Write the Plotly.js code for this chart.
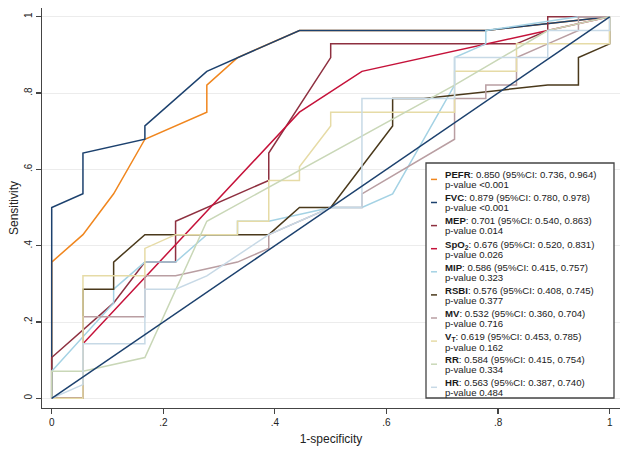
<!DOCTYPE html>
<html><head><meta charset="utf-8">
<script src="https://cdn.plot.ly/plotly-3.0.1.min.js"></script>
<style>html,body{margin:0;padding:0;background:#fff}#chart{width:632px;height:452px}</style>
</head><body><div id="chart"></div>
<script>
// ---- data ----
const markers = ['PEFR','FVC','MEP','SpO<sub>2</sub>','MIP','RSBI','MV','V<sub>T</sub>','RR','HR'];
const aucValues = ['0.850','0.879','0.701','0.676','0.586','0.576','0.532','0.619','0.584','0.563'];
const ciLower = ['0.736','0.780','0.540','0.520','0.415','0.408','0.360','0.453','0.415','0.387'];
const ciUpper = ['0.964','0.978','0.863','0.831','0.757','0.745','0.704','0.785','0.754','0.740'];
const pValues = ['<0.001','<0.001','0.014','0.026','0.323','0.377','0.716','0.162','0.334','0.484'];
const tickValues = [0, 0.2, 0.4, 0.6, 0.8, 1];
const tickLabels = ['0', '.2', '.4', '.6', '.8', '1'];

// 1-specificity (x) and sensitivity (y) for each ROC curve
const pefrX = [0,0,.056,.111,.167,.278,.278,.333,.444,.778,1];
const pefrY = [0,.357,.429,.536,.679,.75,.821,.893,.964,.964,1];
const fvcX = [0,0,.056,.056,.167,.167,.278,.333,.444,.778,1];
const fvcY = [0,.5,.536,.643,.679,.714,.857,.893,.964,.964,1];
const mepX = [0,0,.111,.167,.222,.222,.389,.389,.5,.5,.833,.889,.889,1];
const mepY = [0,.107,.25,.357,.357,.464,.571,.643,.893,.929,.929,.964,1,1];
const spo2X = [0,.056,.056,.444,.556,1];
const spo2Y = [0,0,.143,.75,.857,1];
const mipX = [0,0,.111,.111,.167,.222,.278,.333,.333,.389,.5,.556,.611,.722,.722,.778,.778,.944,1];
const mipY = [0,.071,.25,.286,.357,.357,.429,.429,.464,.464,.5,.5,.536,.821,.893,.929,.964,1,1];
const rsbiX = [0,.056,.056,.111,.111,.167,.389,.444,.5,.611,.611,.667,.889,.944,.944,1,1];
const rsbiY = [0,0,.286,.286,.357,.429,.429,.5,.5,.714,.786,.786,.821,.821,.893,.929,1];
const mvX = [0,.056,.056,.167,.167,.222,.333,.389,.389,.5,.556,.556,.722,.722,.778,.778,.833,.833,.889,.944,.944,1];
const mvY = [0,0,.214,.214,.321,.321,.357,.393,.429,.5,.5,.536,.679,.786,.786,.821,.821,.893,.929,.964,1,1];
const vtX = [0,.056,.056,.167,.167,.222,.333,.333,.389,.389,.444,.444,.5,.5,.722,.722,.833,.833,1,1];
const vtY = [0,0,.321,.321,.393,.429,.429,.464,.464,.571,.571,.607,.714,.75,.75,.857,.857,.929,.929,1];
const rrX = [0,0,.056,.167,.278,.722,.889,1];
const rrY = [0,.071,.071,.107,.464,.821,.964,1];
const hrX = [0,.056,.056,.167,.167,.222,.278,.389,.5,.556,.556,.722,.722,.889,.889,1,1];
const hrY = [0,.036,.143,.143,.286,.286,.321,.429,.5,.5,.786,.786,.893,.893,.964,.964,1];
const refX = [0, 1];
const refY = [0, 1];

const curveX = [pefrX, fvcX, mepX, spo2X, mipX, rsbiX, mvX, vtX, rrX, hrX];
const curveY = [pefrY, fvcY, mepY, spo2Y, mipY, rsbiY, mvY, vtY, rrY, hrY];
const colors = ['#f0861e','#1c416e','#8e3040','#c5123a','#a4d2e4','#4a391b','#b99ea2','#e6dba6','#c9d7b7','#c7d9e6'];

const traces = markers.map((m, k) => ({
  x: curveX[k], y: curveY[k], type: 'scatter', mode: 'lines', name: m,
  line: {color: colors[k], width: 1.5}, showlegend: false, hoverinfo: 'skip'
}));
traces.push({x: refX, y: refY, type: 'scatter', mode: 'lines', name: 'Reference',
  line: {color: '#1c416e', width: 1.5}, showlegend: false, hoverinfo: 'skip'});

// ---- layout helpers (pixel -> paper) ----
const W = 632, H = 452, ML = 42, MR = 12, MT = 8, MB = 44;
const PW = W - ML - MR, PH = H - MT - MB;
const px = v => (v - ML) / PW;
const py = v => (H - MB - v) / PH;

const annotations = [];
const shapes = [{type: 'rect', xref: 'paper', yref: 'paper', x0: px(426), x1: px(614), y0: py(398), y1: py(163),
  line: {color: '#444', width: 1.3}, fillcolor: 'rgba(255,255,255,1)', layer: 'above'}];
const fontBase = {family: 'Liberation Sans, Arial, sans-serif', size: 9.6, color: '#1a1a1a'};
markers.forEach((m, k) => {
  const y1 = 174.6 + 23.1 * k;
  const hasSub = m.indexOf('<sub>') >= 0;
  annotations.push({xref: 'paper', yref: 'paper', x: px(444), y: py(y1 + (hasSub ? 0.6 : 0)), xanchor: 'left', yanchor: 'middle',
    showarrow: false, font: fontBase, borderpad: 0,
    text: '<b>' + m + '</b>: ' + aucValues[k] + ' (95%CI: ' + ciLower[k] + ', ' + ciUpper[k] + ')'});
  annotations.push({xref: 'paper', yref: 'paper', x: px(444), y: py(y1 + (hasSub ? 11 : 10)), xanchor: 'left', yanchor: 'middle',
    showarrow: false, font: fontBase, borderpad: 0, text: 'p-value ' + pValues[k].replace('<', '&lt;')});
  shapes.push({type: 'line', xref: 'paper', yref: 'paper', x0: px(431), x1: px(437), y0: py(y1 + 4.8), y1: py(y1 + 4.8),
    line: {color: colors[k], width: 1.5}, layer: 'above'});
});

const axisCommon = {
  tickvals: tickValues, ticktext: tickLabels, ticks: 'outside', ticklen: 5, tickwidth: 1.2, tickcolor: '#444',
  showline: true, linecolor: '#444', linewidth: 1.3, zeroline: false,
  tickfont: {family: 'Liberation Sans, Arial, sans-serif', size: 10, color: '#222'}
};

const layout = {
  width: W, height: H, margin: {l: ML, r: MR, t: MT, b: MB},
  paper_bgcolor: '#fff', plot_bgcolor: '#fff', showlegend: false,
  xaxis: Object.assign({}, axisCommon, {range: [-0.0174, 1.0185], showgrid: false,
    title: {text: '1-specificity', standoff: 7, font: {family: 'Liberation Sans, Arial, sans-serif', size: 12, color: '#222'}}}),
  yaxis: Object.assign({}, axisCommon, {range: [-0.0254, 1.023], tickangle: -90, showgrid: true, gridcolor: '#ececec', gridwidth: 1,
    title: {text: 'Sensitivity', standoff: 1, font: {family: 'Liberation Sans, Arial, sans-serif', size: 12, color: '#222'}}}),
  annotations: annotations, shapes: shapes
};

Plotly.newPlot('chart', traces, layout, {staticPlot: true, displayModeBar: false});
</script></body></html>
